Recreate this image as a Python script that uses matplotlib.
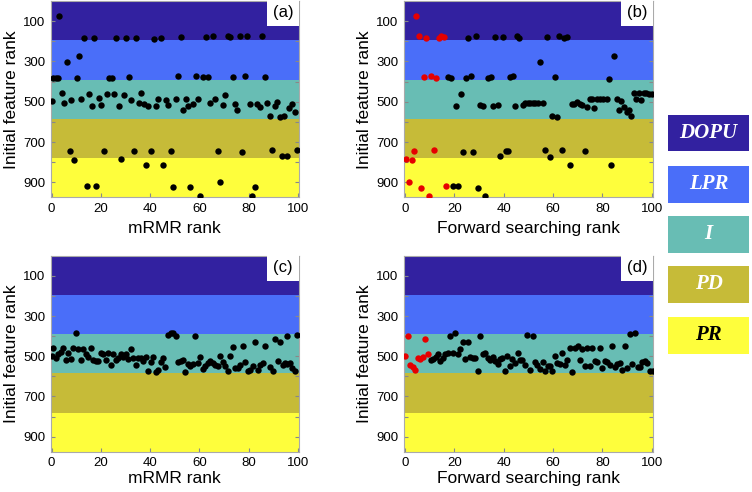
import matplotlib
matplotlib.use('Agg')
import matplotlib.pyplot as plt
from matplotlib.patches import Rectangle

plt.rcParams['font.family'] = ['Liberation Sans', 'DejaVu Sans']

# feature groups (initial rank bands)
groups = ['DOPU', 'LPR', 'I', 'PD', 'PR']
group_edges = [0, 195, 390, 585, 780, 975]
group_colors = ['#3221a0', '#4a6ef9', '#68bdb4', '#c6bb38', '#fefe3c']
group_text_colors = ['white', 'white', 'white', 'white', 'black']

# (a) mRMR rank vs initial rank
a_x = [3, 13.2, 17.2, 26.2, 30.3, 34.3, 41.5, 44.4, 52.4, 62.6, 65.4, 71.5, 72.5, 76.4, 79.5, 85.6,
       6.2, 11, 0.7, 1.6, 2.5, 10.2, 23.3, 24.4, 31.4, 51.5, 58.5, 61.5, 63.7, 73.5, 78.7, 86.8,
       0, 4, 5, 8, 12.1, 15.2, 16.2, 19.1, 20.2, 22.3, 25.2, 27.2, 29.3, 32.3, 35.3, 36.3, 37.4,
       39.3, 42.3, 43.3, 46.3, 47.4, 50.5, 53.4, 54.4, 55.5, 57.3, 59.5, 64.5, 66.4, 69.5, 70.5,
       74.4, 75.5, 80.5, 83.4, 84.5, 87.6, 88.6, 90.6, 91.7, 92.6, 94.6, 96.6, 97.7, 98.7,
       7.3, 9.2, 21.3, 28.3, 33.4, 38.4, 40.4, 45.4, 48.4, 67.4, 77.5, 89.6, 93.5, 95.6, 99.6,
       14.3, 18.2, 49.3, 56.4, 60.3, 68.2, 81.6, 82.6]
a_y = [75, 185, 185, 185, 183, 183, 188, 183, 180, 180, 173, 175, 178, 176, 175, 173,
       301, 273, 382, 382, 381, 380, 384, 382, 379, 374, 374, 379, 379, 376, 372, 377,
       497, 457, 507, 492, 485, 460, 520, 483, 515, 462, 462, 520, 464, 490, 505, 457, 513,
       523, 523, 485, 493, 518, 485, 543, 485, 522, 512, 487, 507, 488, 515, 465,
       510, 543, 510, 512, 525, 505, 571, 523, 503, 576, 571, 530, 510, 553,
       742, 789, 742, 786, 744, 812, 745, 812, 745, 745, 747, 739, 771, 771, 739,
       917, 917, 925, 925, 967, 897, 967, 921]

# (b) forward searching rank vs initial rank
b_red_x = [4.6, 5.6, 8.6, 13.7, 14.6, 15.7, 7.6, 10.7, 12.7, 3.6, 11.7, 0.5, 2.7, 1.6, 6.6, 16.6, 9.7]
b_red_y = [75, 175, 183, 186, 176, 181, 379, 374, 382, 742, 741, 786, 789, 898, 927, 920, 966]
b_x = [25.6, 28.7, 36.6, 39.7, 45.4, 46.4, 57.6, 62.6, 64.4, 65.6,
       54.7, 84.7,
       17.6, 18.6, 24.7, 26.7, 33.6, 34.7, 42.6, 43.7, 60.7, 82.8,
       22.7, 20.6, 30.6, 31.6, 35.7, 37.7, 44.6, 47.7, 48.7, 49.7, 50.7, 51.7, 52.7, 53.8, 55.8,
       59.7, 61.7, 67.8, 68.6, 69.8, 70.9, 71.8, 73.7, 74.8, 75.9, 76.8, 77.9, 79.1, 80.3, 81.7,
       85.8, 87.7, 86.7, 88.7, 89.8, 90.8, 91.7, 92.8, 93.7, 94.8, 95.7, 96.9, 97.8, 98.9, 100,
       23.6, 27.6, 38.6, 40.8, 41.6, 56.7, 58.7, 63.7, 72.8,
       66.7, 83.5, 19.6, 21.6, 29.6, 32.6]
b_y = [183, 173, 181, 180, 173, 186, 180, 175, 186, 178,
       302, 273,
       375, 380, 382, 372, 380, 376, 377, 370, 377, 385,
       463, 520, 515, 523, 523, 518, 521, 518, 508, 508, 508, 507, 507, 505, 506,
       571, 578, 513, 513, 503, 510, 516, 526, 488, 485, 530, 487, 487, 487, 487,
       488, 498, 543, 526, 550, 543, 571, 457, 485, 459, 493, 459, 455, 460, 462,
       747, 747, 771, 742, 742, 740, 772, 740, 745,
       812, 812, 918, 917, 927, 966]

# (c) mRMR rank vs initial rank
c_x = [0, 0.7, 1.7, 2.7, 3.7, 4.7, 5.7, 6.7, 7.7, 8.8, 9.8, 10.8, 11.8, 12.7, 13.8, 14.8, 15.9,
       16.9, 17.9, 18.8, 19.9, 20.9, 22, 22.9, 24, 25, 26.1, 27.1, 28.2, 29.1, 30.1, 31, 32.1,
       33, 34.1, 35, 36.1, 37, 38.2, 39.1, 40.2, 41.3, 42.3, 43.3, 44.3, 45.3, 46.2, 47.3, 48.4,
       49.3, 50.4, 51.2, 52.4, 53.4, 54.3, 55.4, 56.3, 57.4, 58.4, 59.5, 60.4, 61.5, 62.4, 63.4,
       64.4, 65.4, 66.4, 67.5, 68.4, 69.5, 70.4, 71.5, 72.6, 73.6, 74.6, 75.6, 76.7, 77.6, 78.6,
       79.7, 80.7, 81.7, 82.6, 83.7, 84.8, 85.8, 86.7, 88.7, 89.8, 90.8, 91.9, 92.8, 93.9, 94.8,
       95.8, 95.8, 96.9, 97.8, 98.9, 99.8]
c_y = [497, 458, 507, 489, 481, 461, 519, 484, 516, 461, 385, 463, 521, 463, 489, 502, 459,
       517, 522, 524, 484, 489, 517, 486, 544, 488, 521, 511, 488, 502, 491, 514, 464,
       511, 544, 509, 509, 526, 502, 572, 527, 502, 577, 568, 531, 509, 553, 395, 387,
       385, 397, 530, 524, 517, 578, 537, 550, 537, 398, 534, 504, 562, 547, 536,
       522, 533, 544, 550, 501, 531, 547, 575, 501, 453, 558, 558, 542, 450, 529,
       575, 570, 550, 428, 570, 545, 536, 450, 553, 575, 415, 526, 427, 545, 532,
       540, 400, 532, 557, 575, 394]

# (d) forward searching rank vs initial rank
d_red_x = [0.1, 1.2, 2.1, 3.1, 4.2, 5.1, 6.1, 7.2, 8.2, 9.2]
d_red_y = [497, 400, 544, 554, 570, 507, 512, 502, 413, 488]
d_x = [10.4, 11.5, 12.4, 13.3, 14.3, 15.3, 16.2, 17.3, 19.3, 18.4, 20.4, 21.4, 22.4, 23.4, 25.4,
       24.4, 26.5, 27.4, 28.5, 29.5, 30.4, 31.5, 32.4, 33.5, 34.5, 35.5, 36.5, 37.6, 38.5, 39.4,
       40.7, 41.5, 42.6, 43.5, 44.6, 45.7, 46.6, 47.5, 48.6, 49.6, 51.8, 50.7, 52.7, 53.6, 54.7,
       55.8, 56.7, 57.8, 58.8, 59.7, 60.8, 61.7, 62.8, 63.8, 64.9, 65.8, 66.9, 68.9, 70, 67.8,
       70.9, 71.9, 73.9, 75.9, 73, 75, 76.9, 77.8, 78.9, 80, 80.9, 81.9, 83, 83.9, 85, 85.9, 87,
       87.9, 89.1, 90, 91.1, 92, 93.1, 94.3, 95.3, 96.2, 97.3, 98.2, 99.3, 100.4]
d_y = [521, 516, 506, 491, 524, 507, 488, 484, 484, 397, 385, 491, 463, 427, 427,
       512, 504, 507, 509, 572, 397, 491, 484, 509, 521, 504, 526, 541, 512, 507,
       575, 501, 549, 516, 536, 486, 521, 519, 542, 394, 397, 567, 529, 542, 562,
       529, 575, 549, 550, 573, 499, 534, 537, 484, 542, 521, 459, 459, 448, 578,
       517, 463, 458, 459, 547, 547, 522, 529, 459, 558, 526, 529, 542, 448, 555, 537, 534,
       570, 451, 560, 392, 537, 384, 552, 552, 529, 526, 534, 575, 573]

panels = [
    ('(a)', 'mRMR rank', a_x, a_y, [], []),
    ('(b)', 'Forward searching rank', b_x, b_y, b_red_x, b_red_y),
    ('(c)', 'mRMR rank', c_x, c_y, [], []),
    ('(d)', 'Forward searching rank', d_x, d_y, d_red_x, d_red_y),
]
positions = [
    [0.0674, 0.5986, 0.3302, 0.3994],
    [0.5372, 0.5986, 0.3311, 0.3994],
    [0.0674, 0.0819, 0.3302, 0.3984],
    [0.5372, 0.0819, 0.3311, 0.3984],
]

fig = plt.figure(figsize=(7.52, 4.92), dpi=100)

for (tag, xlab, xs, ys, rx, ry), pos in zip(panels, positions):
    ax = fig.add_axes(pos)
    for i in range(len(groups)):
        ax.axhspan(group_edges[i], group_edges[i + 1], color=group_colors[i], lw=0, zorder=0)
    ax.plot(xs, ys, 'o', color='black', ms=4.6, mew=0, zorder=3)
    if rx:
        ax.plot(rx, ry, 'o', color='#e60000', ms=4.6, mew=0, zorder=3)
    ax.set_xlim(-0.4, 100.5)
    ax.set_ylim(group_edges[-1], 0)
    ax.set_xticks(range(0, 101, 20))
    ax.set_yticks(range(100, 1000, 100))
    ax.set_yticklabels([str(v) if v % 200 == 100 else '' for v in range(100, 1000, 100)])
    ax.tick_params(direction='in', length=3, color='#888888', labelsize=9.5,
                   right=True, top=False, pad=4)
    for s in ax.spines.values():
        s.set_color('#aaaaaa')
        s.set_linewidth(0.8)
    ax.set_ylabel('Initial feature rank', fontsize=12.5, labelpad=3)
    ax.set_xlabel(xlab, fontsize=12.5, labelpad=4 if tag in ('(a)', '(b)') else 1)
    # white tag box in the upper-right corner
    ax.add_patch(Rectangle((0.871, 0.872), 0.129, 0.14, transform=ax.transAxes,
                           facecolor='white', edgecolor='none', clip_on=False, zorder=4))
    ax.text(0.936, 0.94, tag, transform=ax.transAxes, ha='center', va='center',
            fontsize=12, zorder=5)

# colour key on the right
box_tops = [115, 166, 216, 266, 317]
for name, col, tcol, top in zip(groups, group_colors, group_text_colors, box_tops):
    y0 = 1 - (top + 36.5) / 492
    fig.add_artist(Rectangle((668 / 752, y0), 81 / 752, 36.5 / 492, transform=fig.transFigure,
                             facecolor=col, edgecolor='none'))
    fig.text(708.5 / 752, y0 + 18.25 / 492, name, ha='center', va='center', color=tcol,
             fontsize=15, family='Liberation Serif', fontweight='bold', fontstyle='italic')

fig.savefig('out.png', dpi=100)
